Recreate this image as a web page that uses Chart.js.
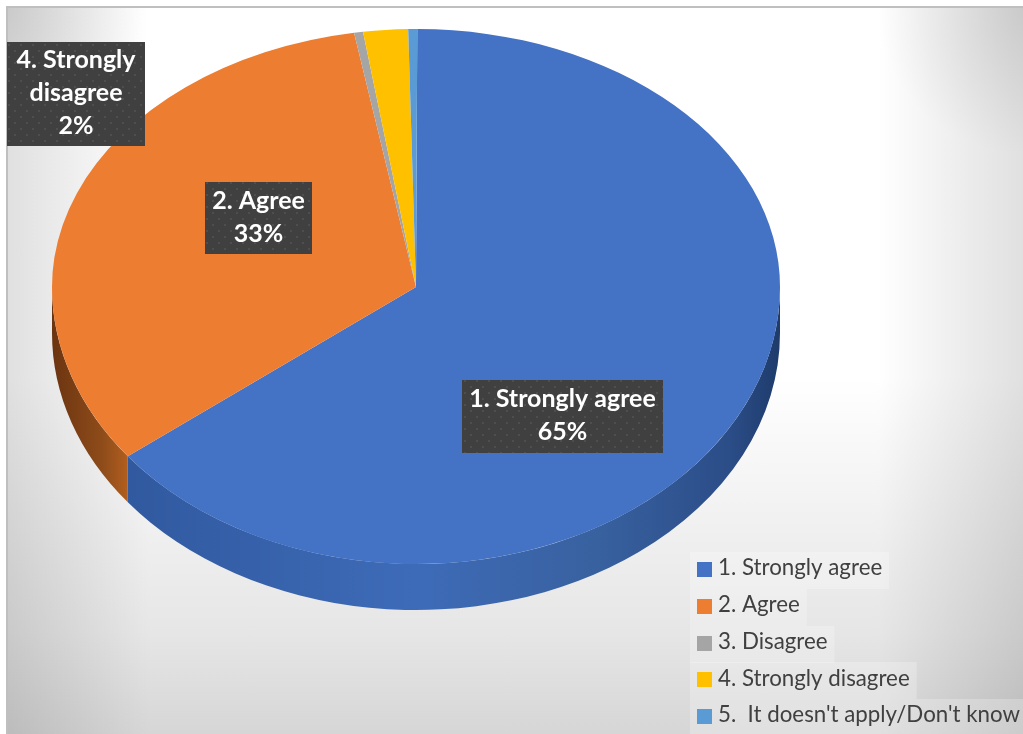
<!DOCTYPE html>
<html lang="en">
  <head>
    <meta charset="UTF-8" />
    <title>Level of agreement</title>
    <script src="https://cdn.jsdelivr.net/npm/chart.js@4/dist/chart.umd.min.js"></script>
    <style>
      html,
      body {
        margin: 0;
        padding: 0;
        background: #fff;
      }

      .frame {
        position: absolute;
        left: 6px;
        top: 6px;
        width: 1015px;
        height: 726px;
        border-left: 2px solid #bfbfbf;
        border-top: 2px solid #bfbfbf;
        background-color: #fff;
        background-blend-mode: multiply;
        background-image:
          radial-gradient(circle 135px at 0 0, #e6e6e6, #fff),
          radial-gradient(circle 145px at 100% 0, #e6e6e6, #fff),
          linear-gradient(to right, #e0e0e0 0, #fff 140px, #fff 870px, #e0e0e0 1015px),
          linear-gradient(to bottom, #fff 370px, #efefef 530px, #e6e6e6 625px, #d6d6d6 726px);
      }

      canvas {
        position: absolute;
        left: 0;
        top: 0;
      }
    </style>
  </head>
  <body>
    <div class="frame"></div>
    <canvas id="pie" width="1023" height="734"></canvas>
    <script>
      const categories = ['1. Strongly agree', '2. Agree', '3. Disagree', '4. Strongly disagree', "5.  It doesn't apply/Don't know"]
      const shares = [65, 33, 0.4, 2, 0.4]
      const sliceColors = ['#4472c4', '#ed7d31', '#a5a5a5', '#ffc000', '#5b9bd5']

      // tilted disc: the near half is drawn a bit taller than the far half
      const tilt = { apexY: 287, farRadius: 258, nearRadius: 277, depth: 46 }

      // rim shading per slice, left to right across the disc
      const rimStops = {
        0: [[0.1, '#30599f'], [0.5, '#3e6bb8'], [0.75, '#38619f'], [0.93, '#2b4d88'], [1, '#1e3b6b']],
        1: [[0, '#6b3410'], [0.07, '#8f4c1a'], [0.11, '#b8611f']],
      }

      const dataBoxes = [
        { slice: 0, left: 462, top: 380, right: 663, bottom: 453 },
        { slice: 1, left: 205, top: 182, right: 312, bottom: 254 },
        { slice: 3, left: 7, top: 42, right: 145, bottom: 146 },
      ]

      const rimPlugin = {
        id: 'tiltedPie',
        beforeDatasetsDraw(chart) {
          const ctx = chart.ctx
          const arcs = chart.getDatasetMeta(0).data
          const { x, y, outerRadius: r } = arcs[0]

          // rim under the near half of the disc
          arcs.forEach((arc, i) => {
            const from = Math.max(arc.startAngle, 0)
            const to = Math.min(arc.endAngle, Math.PI)
            if (from >= to || !rimStops[i]) return
            const fill = ctx.createLinearGradient(x - r, 0, x + r, 0)
            rimStops[i].forEach(([at, color]) => fill.addColorStop(at, color))
            ctx.beginPath()
            ctx.ellipse(x, tilt.apexY, r, tilt.nearRadius, 0, from, to)
            ctx.ellipse(x, tilt.apexY + tilt.depth, r, tilt.nearRadius, 0, to, from, true)
            ctx.closePath()
            ctx.fillStyle = fill
            ctx.fill()
          })

          // top face, far and near halves squashed separately around the apex
          const halves = [
            { clipTop: 0, clipHeight: tilt.apexY, radius: tilt.farRadius },
            { clipTop: tilt.apexY, clipHeight: chart.height, radius: tilt.nearRadius },
          ]
          halves.forEach((half) => {
            ctx.save()
            ctx.beginPath()
            ctx.rect(0, half.clipTop, chart.width, half.clipHeight)
            ctx.clip()
            ctx.translate(x, tilt.apexY)
            ctx.scale(1, half.radius / r)
            ctx.translate(-x, -y)
            arcs.forEach((arc) => arc.draw(ctx))
            ctx.restore()
          })
          return false
        },
      }

      const dottedFill = (ctx) => {
        const tile = document.createElement('canvas')
        tile.width = 12
        tile.height = 12
        const t = tile.getContext('2d')
        t.fillStyle = '#404040'
        t.fillRect(0, 0, 12, 12)
        t.fillStyle = '#4e4e4e'
        t.fillRect(2, 2, 2, 2)
        t.fillRect(8, 8, 2, 2)
        return ctx.createPattern(tile, 'repeat')
      }

      const wrapLabel = (ctx, text, width) => {
        const lines = []
        let line = ''
        text.split(' ').forEach((word) => {
          const next = line ? line + ' ' + word : word
          if (ctx.measureText(next).width > width && line) {
            lines.push(line)
            line = word
          } else {
            line = next
          }
        })
        lines.push(line)
        return lines
      }

      const labelPlugin = {
        id: 'pieLabels',
        afterDraw(chart) {
          const ctx = chart.ctx
          ctx.save()
          ctx.textBaseline = 'middle'

          // value boxes
          const dots = dottedFill(ctx)
          ctx.textAlign = 'center'
          ctx.font = 'bold 25px Lato'
          dataBoxes.forEach((box) => {
            ctx.fillStyle = dots
            ctx.fillRect(box.left, box.top, box.right - box.left, box.bottom - box.top)
            const lines = wrapLabel(ctx, categories[box.slice], box.right - box.left - 12)
            lines.push(shares[box.slice] + '%')
            const midX = (box.left + box.right) / 2
            const startY = (box.top + box.bottom) / 2 - ((lines.length - 1) * 33) / 2 - 1
            ctx.fillStyle = '#ffffff'
            lines.forEach((line, i) => ctx.fillText(line, midX, startY + i * 33))
          })

          // legend
          ctx.textAlign = 'left'
          ctx.font = '22.3px Lato'
          categories.forEach((label, i) => {
            const rowTop = 552 + i * 36.8
            const width = ctx.measureText(label).width
            ctx.fillStyle = 'rgba(255,255,255,0.24)'
            ctx.fillRect(690, Math.round(rowTop), 28 + width + 7, 37)
            ctx.fillStyle = sliceColors[i]
            ctx.fillRect(697, Math.round(rowTop + 10), 15, 15)
            ctx.fillStyle = '#404040'
            ctx.fillText(label, 718, rowTop + 16)
          })
          ctx.restore()
        },
      }

      new Chart(document.getElementById('pie'), {
        type: 'pie',
        data: {
          labels: categories,
          datasets: [
            {
              data: shares,
              backgroundColor: sliceColors,
              borderWidth: 0,
            },
          ],
        },
        options: {
          responsive: false,
          animation: false,
          rotation: 0.2,
          layout: { padding: { left: 52, right: 243, top: 3, bottom: 3 } },
          plugins: {
            legend: { display: false },
            tooltip: { enabled: false },
          },
        },
        plugins: [rimPlugin, labelPlugin],
      })
    </script>
  </body>
</html>
